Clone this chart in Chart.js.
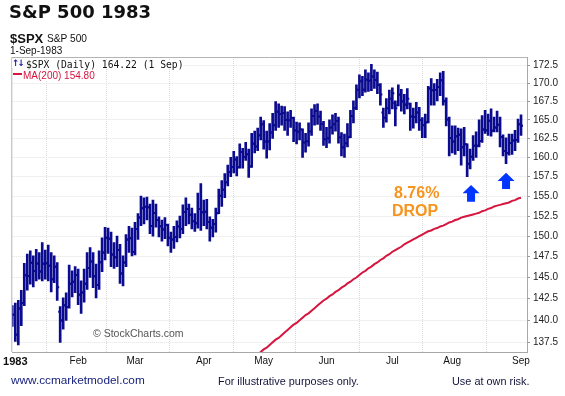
<!DOCTYPE html>
<html><head><meta charset="utf-8">
<script src="https://cdn.jsdelivr.net/npm/chart.js@4.4.1/dist/chart.umd.min.js"></script>
<style>
html,body{margin:0;padding:0;background:#fff;}
#wrap{position:relative;width:565px;height:396px;overflow:hidden;background:#fff;}
#wrap canvas{position:absolute;left:0;top:0;}
.t{position:absolute;white-space:nowrap;line-height:1;margin:0;font-family:'Liberation Sans',Arial,sans-serif;}
</style></head><body>
<div id="wrap">
<canvas id="c" width="565" height="396"></canvas>
<div class="t" style="left:9px;top:3px;font:bold 18px 'DejaVu Sans';line-height:18px;color:#111">S&amp;P 500 1983</div>
<div class="t" style="left:10px;top:32px;font-weight:bold;font-size:13px;color:#111">$SPX</div>
<div class="t" style="left:47px;top:34px;font-size:10.2px;color:#111">S&amp;P 500</div>
<div class="t" style="left:10px;top:46px;font-size:10px;color:#111">1-Sep-1983</div>
<div class="t" style="left:12px;top:59px;font:bold 9px 'DejaVu Sans';line-height:9px;letter-spacing:-2px;color:#1a1aa8;background:#fff">↑↓</div>
<div class="t" style="left:26px;top:59.5px;font:9.7px 'DejaVu Sans Mono';line-height:9.7px;color:#111;background:#fff">$SPX (Daily) 164.22 (1 Sep)</div>
<div class="t" style="left:13px;top:73px;width:9px;height:2px;background:#d6163f"></div>
<div class="t" style="left:23px;top:70.5px;font-size:10px;color:#d6163f;background:#fff">MA(200) 154.80</div>
<div class="t" style="left:93px;top:328px;font-size:10.5px;color:#555">© StockCharts.com</div>
<div class="t" style="left:394px;top:185px;font-weight:bold;font-size:16px;color:#f7941d">8.76%</div>
<div class="t" style="left:392px;top:203px;font-weight:bold;font-size:16px;color:#f7941d">DROP</div>
<div class="t" style="left:11px;top:375px;font-size:11.8px;color:#1a237e">www.ccmarketmodel.com</div>
<div class="t" style="left:218px;top:375.8px;font-size:10.9px;color:#14143c">For illustrative purposes only.</div>
<div class="t" style="left:452px;top:375.8px;font-size:10.9px;color:#14143c">Use at own risk.</div>
</div>
<script>
const dates = [
"12/31","1/3","1/4","1/5","1/6","1/7","1/10","1/11","1/12","1/13","1/14","1/17","1/18","1/19","1/20","1/21","1/24","1/25","1/26","1/27","1/28","1/31",
"2/1","2/2","2/3","2/4","2/7","2/8","2/9","2/10","2/11","2/14","2/15","2/16","2/17","2/18","2/22","2/23","2/24","2/25","2/28",
"3/1","3/2","3/3","3/4","3/7","3/8","3/9","3/10","3/11","3/14","3/15","3/16","3/17","3/18","3/21","3/22","3/23","3/24","3/25","3/28","3/29","3/30","3/31",
"4/4","4/5","4/6","4/7","4/8","4/11","4/12","4/13","4/14","4/15","4/18","4/19","4/20","4/21","4/22","4/25","4/26","4/27","4/28","4/29",
"5/2","5/3","5/4","5/5","5/6","5/9","5/10","5/11","5/12","5/13","5/16","5/17","5/18","5/19","5/20","5/23","5/24","5/25","5/26","5/27","5/31",
"6/1","6/2","6/3","6/6","6/7","6/8","6/9","6/10","6/13","6/14","6/15","6/16","6/17","6/20","6/21","6/22","6/23","6/24","6/27","6/28","6/29","6/30",
"7/1","7/5","7/6","7/7","7/8","7/11","7/12","7/13","7/14","7/15","7/18","7/19","7/20","7/21","7/22","7/25","7/26","7/27","7/28","7/29",
"8/1","8/2","8/3","8/4","8/5","8/8","8/9","8/10","8/11","8/12","8/15","8/16","8/17","8/18","8/19","8/22","8/23","8/24","8/25","8/26","8/29","8/30","8/31",
"9/1"];

const opens = [
140.30,140.64,138.34,141.36,142.01,145.27,145.18,146.78,145.78,146.69,
145.73,146.65,146.71,146.40,144.80,146.29,141.00,139.97,141.75,141.54,
144.27,144.51,145.30,142.96,143.23,144.26,146.14,146.93,145.15,144.12,
146.83,148.00,149.82,149.68,147.76,147.44,148.30,145.48,146.79,149.60,
149.74,148.06,150.88,152.30,153.48,153.67,153.60,151.25,152.87,152.00,
151.24,150.83,151.37,149.81,149.59,149.90,151.19,150.90,153.00,153.37,
152.67,151.85,151.59,153.39,152.96,153.02,151.76,151.04,151.51,152.85,
155.06,155.82,156.77,158.11,158.75,159.74,158.71,160.71,160.05,160.42,
158.81,161.81,161.44,162.95,164.43,162.11,162.10,163.31,164.28,166.10,
165.81,165.95,165.00,164.96,165.26,163.57,163.40,163.71,161.98,162.14,
163.43,165.54,166.21,165.48,164.46,162.39,162.55,163.98,164.42,164.84,
162.68,161.36,161.87,162.68,165.53,166.63,169.14,170.30,169.13,170.53,
170.40,170.99,170.50,169.80,166.00,165.30,166.60,167.90,167.30,167.00,
168.40,167.50,167.10,167.20,165.50,165.40,166.00,165.00,164.30,164.70,
169.29,169.06,169.09,169.53,170.45,167.50,165.04,162.56,162.10,162.80,
163.00,161.33,161.74,159.18,160.10,161.54,161.54,162.16,163.70,163.60,
164.90,163.55,163.98,164.34,162.70,160.84,160.60,161.90,162.25,162.32,
164.40];

const highs = [
141.70,142.00,142.30,143.50,146.70,147.80,148.20,147.60,148.40,148.00,
149.20,148.30,148.90,148.00,147.60,146.80,141.60,142.60,143.20,146.50,
145.80,146.30,146.00,144.60,146.00,148.00,148.60,148.00,146.60,148.20,
149.80,151.10,151.00,150.50,149.20,150.00,149.00,147.60,150.20,151.20,
151.00,151.70,152.80,155.00,154.80,154.90,154.00,154.50,154.00,152.40,
152.00,152.30,151.50,150.50,151.20,151.90,152.50,153.90,154.80,154.00,
153.50,152.80,155.40,156.60,154.50,154.60,152.40,152.10,153.50,155.90,
157.00,157.90,159.00,160.00,160.80,160.10,161.80,161.20,162.00,161.10,
163.20,163.50,163.90,165.40,164.90,163.50,164.50,165.90,167.50,167.20,
166.90,166.80,166.10,166.30,165.40,164.70,164.60,163.80,163.20,164.60,
166.50,167.10,167.20,166.20,164.80,164.00,165.00,165.70,165.90,165.40,
163.30,163.10,164.50,166.30,167.60,169.80,171.20,171.00,171.90,171.50,
172.70,171.90,171.60,170.00,166.60,167.90,169.10,169.40,167.60,169.80,
169.20,168.50,169.30,167.30,166.60,167.40,166.70,165.30,165.80,169.60,
170.70,170.00,170.60,171.50,171.70,168.00,165.40,164.20,164.20,163.90,
163.80,164.00,161.80,161.10,162.90,163.40,165.00,165.60,166.30,165.80,
166.50,165.40,166.20,165.40,163.00,162.60,163.10,163.10,163.60,165.10,
165.70];

const lows = [
139.30,137.60,137.20,139.40,141.70,143.50,144.20,143.90,144.60,144.80,
144.60,144.80,144.60,143.30,144.40,142.30,137.50,139.00,140.00,141.40,
142.70,143.20,141.80,140.80,142.10,143.60,145.00,143.80,142.60,143.60,
145.70,147.10,147.90,146.30,146.10,146.30,144.30,144.00,146.30,148.00,
147.60,147.70,149.60,151.30,151.50,152.00,150.30,150.00,151.10,149.90,
149.40,149.70,148.80,148.00,148.50,149.30,149.80,150.30,151.30,151.50,
150.90,150.60,151.00,150.70,151.30,150.90,149.40,149.90,150.50,152.80,
153.70,154.80,156.30,157.50,158.00,157.60,158.60,158.60,159.60,157.40,
158.70,160.60,160.90,162.30,161.10,159.90,161.00,162.50,163.60,164.00,
164.30,163.60,162.90,164.00,162.10,161.80,162.30,160.00,160.70,161.50,
162.90,164.30,164.40,163.60,161.60,161.30,161.90,163.10,163.50,161.90,
160.20,160.00,161.40,162.60,164.60,166.40,168.00,168.30,168.80,168.90,
169.00,169.30,168.60,167.00,164.00,164.70,165.80,166.50,164.20,166.90,
166.20,165.80,166.50,163.60,163.90,164.60,163.60,162.60,162.60,164.60,
167.00,167.00,167.60,168.30,167.00,164.20,160.20,160.60,160.40,160.90,
159.00,160.20,157.50,158.50,159.60,160.00,161.40,162.00,163.20,162.90,
162.80,163.40,163.40,161.40,160.20,159.20,160.30,160.40,160.90,162.00,
162.90];

const closes = [
140.64,138.34,141.36,142.01,145.27,145.18,146.78,145.78,146.69,145.73,
146.65,146.71,146.40,144.80,146.29,143.85,139.97,141.75,141.54,144.27,
144.51,145.30,142.96,143.23,144.26,146.14,146.93,145.15,144.12,146.83,
148.00,149.82,149.68,147.76,147.44,148.30,145.48,146.79,149.60,149.74,
148.06,150.88,152.30,153.48,153.67,153.60,151.25,152.87,152.00,151.24,
150.83,151.37,149.81,149.59,149.90,151.19,150.90,153.00,153.37,152.67,
151.85,151.59,153.39,152.96,153.02,151.76,151.04,151.51,152.85,155.06,
155.82,156.77,158.11,158.75,159.74,158.71,160.71,160.05,160.42,158.81,
161.81,161.44,162.95,164.43,162.11,162.10,163.31,164.28,166.10,165.81,
165.95,165.00,164.96,165.26,163.57,163.40,163.71,161.98,162.14,163.43,
165.54,166.21,165.48,164.46,162.39,162.55,163.98,164.42,164.84,162.68,
161.36,161.87,162.68,165.53,166.63,169.14,170.30,169.13,170.53,170.40,
170.99,170.50,169.80,168.46,165.30,166.60,167.90,168.64,166.60,168.48,
167.56,167.08,167.90,165.46,165.40,166.01,165.00,164.29,164.70,169.29,
169.06,169.09,169.53,170.45,167.59,165.04,162.56,162.10,162.80,163.00,
161.33,161.74,159.18,160.10,161.54,161.54,162.16,163.70,163.60,164.90,
163.55,163.98,164.34,162.70,160.84,160.60,161.90,162.25,162.32,164.40,
164.22];

// 200-day moving average (starts 4/22)
const ma200Start = "4/22";
const ma200 = [
134.9,135.2,135.5,135.8,136.1,136.4,136.7,136.9,137.2,137.5,
137.8,138.0,138.3,138.6,138.9,139.2,139.5,139.7,140.0,140.3,
140.6,140.8,141.1,141.4,141.7,142.0,142.3,142.5,142.8,143.0,
143.3,143.5,143.8,144.0,144.3,144.5,144.8,145.0,145.3,145.6,
145.8,146.1,146.3,146.6,146.8,147.1,147.3,147.6,147.8,148.1,
148.3,148.5,148.7,149.0,149.2,149.4,149.6,149.8,150.0,150.2,
150.4,150.6,150.7,150.9,151.0,151.2,151.3,151.5,151.7,151.8,
152.0,152.1,152.3,152.4,152.5,152.6,152.7,152.8,152.9,153.1,
153.2,153.4,153.5,153.7,153.8,153.9,154.0,154.1,154.2,154.4,
154.5,154.7,154.8];

const monthStarts = ["1/3","2/1","3/1","4/4","5/2","6/1","7/1","8/1","9/1"];
const monthLabels = ["1983","Feb","Mar","Apr","May","Jun","Jul","Aug","Sep"];
const yTicks = [137.5,140,142.5,145,147.5,150,152.5,155,157.5,160,162.5,165,167.5,170,172.5];

// annotation arrows (trading-day index, tip price, tail price)
const arrowMarks = [
  {at: 153.3, tip: 156.43, tail: 154.3},
  {at: 165.0, tip: 158.0, tail: 155.9}
];

const NAVY = '#0b0b8f';
const RED = '#d6163f';
const maIdx = dates.indexOf(ma200Start);

const framePlugin = {
  id: 'frame',
  beforeDatasetsDraw(chart) {
    const {ctx, chartArea: a} = chart;
    ctx.save();
    ctx.strokeStyle = '#b4b4b4';
    ctx.lineWidth = 1;
    ctx.beginPath();
    ctx.moveTo(a.left - 0.5, a.bottom);
    ctx.lineTo(a.left - 0.5, a.top + 0.5);
    ctx.lineTo(a.right, a.top + 0.5);
    ctx.stroke();
    ctx.restore();
  },
  afterDatasetsDraw(chart) {
    const {ctx, scales} = chart;
    ctx.save();
    ctx.fillStyle = '#0036ff';
    arrowMarks.forEach(m => {
      const x = scales.x.getPixelForValue(m.at);
      const yt = scales.y.getPixelForValue(m.tip);
      const yb = scales.y.getPixelForValue(m.tail);
      const headH = 8.3, headW = 8.5, shaftW = 4;
      ctx.beginPath();
      ctx.moveTo(x, yt);
      ctx.lineTo(x + headW, yt + headH);
      ctx.lineTo(x + shaftW, yt + headH);
      ctx.lineTo(x + shaftW, yb);
      ctx.lineTo(x - shaftW, yb);
      ctx.lineTo(x - shaftW, yt + headH);
      ctx.lineTo(x - headW, yt + headH);
      ctx.closePath();
      ctx.fill();
    });
    ctx.restore();
  }
};

new Chart(document.getElementById('c'), {
  type: 'bar',
  data: {
    datasets: [
      {
        type: 'line',
        data: ma200.map((v, j) => ({x: maIdx + j, y: v})),
        borderColor: RED, borderWidth: 2, pointRadius: 0, tension: 0, fill: false, order: 0
      },
      {
        type: 'bar',
        data: dates.map((d, i) => ({x: i, y: [lows[i], highs[i]]})),
        backgroundColor: NAVY, borderWidth: 0, barThickness: 2, order: 2
      },
      {
        type: 'scatter',
        data: dates.map((d, i) => ({x: i - 1/3, y: opens[i]})),
        pointStyle: 'line', pointRadius: 1, pointBorderWidth: 2, pointBorderColor: NAVY,
        pointBackgroundColor: NAVY, showLine: false, order: 1
      },
      {
        type: 'scatter',
        data: dates.map((d, i) => ({x: i + 1/3, y: closes[i]})),
        pointStyle: 'line', pointRadius: 1, pointBorderWidth: 2, pointBorderColor: NAVY,
        pointBackgroundColor: NAVY, showLine: false, order: 1
      }
    ]
  },
  options: {
    responsive: false,
    animation: false,
    events: [],
    layout: {padding: {left: 11, top: 57, right: 0, bottom: 0}},
    plugins: {legend: {display: false}, tooltip: {enabled: false}},
    scales: {
      x: {
        type: 'linear', min: 0, max: 172, offset: false, bounds: 'data',
        afterBuildTicks: s => { s.ticks = monthStarts.map(d => ({value: dates.indexOf(d)})); },
        afterFit: s => { s.height = 44; },
        grid: {color: '#d9d9d9', lineWidth: 1, drawTicks: false},
        border: {display: true, color: '#a8a8a8', dash: [1, 1]},
        ticks: {
          autoSkip: false, maxRotation: 0, padding: 3, color: '#111',
          font: c => c.index === 0
            ? {family: 'Liberation Sans', size: 11, weight: 'bold'}
            : {family: 'Liberation Sans', size: 10},
          callback: (v, i) => monthLabels[i]
        }
      },
      y: {
        type: 'logarithmic', position: 'right', min: 136.411, max: 173.735, bounds: 'data',
        afterBuildTicks: s => { s.ticks = yTicks.map(v => ({value: v})); },
        afterFit: s => { s.width = 38; },
        grid: {color: '#e1e1e1', lineWidth: 1, tickLength: 3, tickColor: '#9a9a9a'},
        border: {display: true, color: '#a8a8a8', dash: [1, 1]},
        ticks: {
          autoSkip: false, padding: 3, color: '#222',
          font: {family: 'Liberation Sans', size: 10},
          callback: v => Number(v).toFixed(1)
        }
      }
    }
  },
  plugins: [framePlugin]
});
</script>
</body></html>
